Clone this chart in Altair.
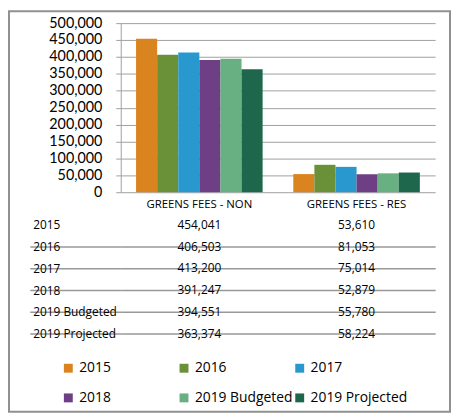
import altair as alt
import pandas as pd

series = ["2015", "2016", "2017", "2018", "2019 Budgeted", "2019 Projected"]
categories = ["GREENS FEES - NON", "GREENS FEES - RES"]
non_values = [454041, 406503, 413200, 391247, 394551, 363374]
res_values = [53610, 81053, 75014, 52879, 55780, 58224]
colors = ["#DA8420", "#6A9038", "#2898CF", "#6E3F84", "#68AF82", "#1E674D"]
y_ticks = [0, 50000, 100000, 150000, 200000, 250000, 300000, 350000, 400000, 450000, 500000]

rows = []
for s, a, b in zip(series, non_values, res_values):
    rows.append({"series": s, "category": categories[0], "value": a})
    rows.append({"series": s, "category": categories[1], "value": b})
df = pd.DataFrame(rows)

FONT = "Open Sans"
YFONT = "Lato"
GRID = "#A0A0A0"
LINE = "#999999"

xscale = alt.Scale(domain=categories, paddingInner=0.195, paddingOuter=0.0975)

bars = alt.Chart(df).mark_bar().encode(
    x=alt.X("category:N", scale=xscale,
            axis=alt.Axis(title=None, labelAngle=0, domain=False, ticks=False,
                          labelPadding=6, labelFontSize=11.5, labelColor="#000", grid=False)),
    xOffset=alt.XOffset("series:N", scale=alt.Scale(domain=series, paddingInner=0, paddingOuter=0)),
    y=alt.Y("value:Q", scale=alt.Scale(domain=[0, 500000], nice=False),
            axis=alt.Axis(title=None, values=y_ticks, format=",.0f", grid=True, gridColor=GRID,
                          domain=True, domainColor=GRID, ticks=True, tickSize=5, tickColor=GRID,
                          labelPadding=14, labelFontSize=14.5, labelFont=YFONT, labelColor="#000")),
    color=alt.Color("series:N", scale=alt.Scale(domain=series, range=colors),
                    legend=alt.Legend(title=None, orient="none", legendX=-60, legendY=342,
                                      direction="horizontal", columns=3, gridAlign="all",
                                      symbolType="square", symbolSize=81, symbolStrokeWidth=0,
                                      labelFontSize=14, labelColor="#000", labelOffset=4,
                                      columnPadding=-4, rowPadding=16, labelLimit=200)),
).properties(width=318, height=171)

hide_first = {"condition": {"test": "datum.value === '2015'", "value": 0}, "value": 1}

table_text = alt.Chart(df).mark_text(fontSize=12, font=FONT, color="#000").encode(
    x=alt.X("category:N", scale=xscale, axis=None),
    y=alt.Y("series:N", sort=series,
            scale=alt.Scale(domain=series, paddingInner=0, paddingOuter=0),
            axis=alt.Axis(title=None, domain=False, ticks=True, tickSize=92, tickColor=LINE,
                          tickWidth=1.5, grid=True, gridColor=LINE, gridWidth=1.5,
                          bandPosition=0, labelAlign="left",
                          labelPadding=-3, labelFontSize=12, labelColor="#000",
                          tickOpacity=hide_first, gridOpacity=hide_first)),
    text=alt.Text("value:Q", format=","),
)

# outer chart border (decoration)
frame = alt.Chart(pd.DataFrame({"frame": [0]})).mark_rect(
    fill=None, stroke="#909090", strokeWidth=2
).encode(x=alt.value(-113), x2=alt.value(333), y=alt.value(-205), y2=alt.value(200))

table = alt.layer(table_text, frame).properties(width=318, height=132)

chart = alt.vconcat(bars, table, spacing=22, bounds="flush").properties(
    padding={"left": 0, "top": 0, "right": 0, "bottom": 0}
).configure_view(stroke=None).configure_axis(labelFont=FONT).configure_legend(labelFont=FONT)

chart.save("out.html", embed_options={"renderer": "svg", "actions": False})
